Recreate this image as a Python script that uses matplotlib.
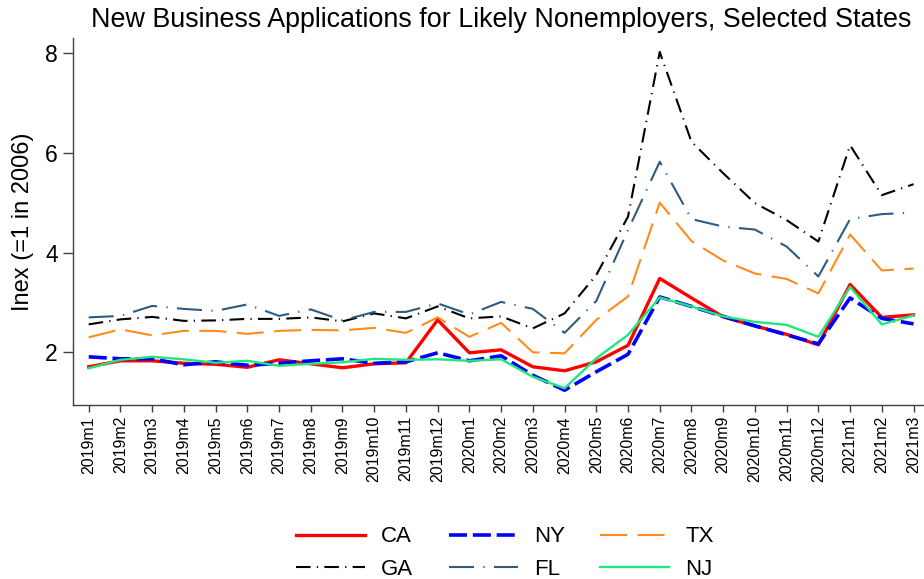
import matplotlib
matplotlib.use("Agg")
import matplotlib.pyplot as plt

plt.rcParams['font.family'] = ['Liberation Sans', 'DejaVu Sans']

months = ["2019m1", "2019m2", "2019m3", "2019m4", "2019m5", "2019m6", "2019m7", "2019m8",
          "2019m9", "2019m10", "2019m11", "2019m12", "2020m1", "2020m2", "2020m3", "2020m4",
          "2020m5", "2020m6", "2020m7", "2020m8", "2020m9", "2020m10", "2020m11", "2020m12",
          "2021m1", "2021m2", "2021m3"]

CA = [1.71, 1.83, 1.83, 1.78, 1.76, 1.70, 1.85, 1.77, 1.69, 1.77, 1.79, 2.65, 1.99, 2.05,
      1.71, 1.63, 1.81, 2.14, 3.48, 3.09, 2.71, 2.53, 2.36, 2.15, 3.36, 2.70, 2.75]
NY = [1.91, 1.87, 1.87, 1.75, 1.81, 1.74, 1.78, 1.83, 1.87, 1.78, 1.81, 1.99, 1.83, 1.93,
      1.54, 1.24, 1.61, 1.96, 3.11, 2.92, 2.72, 2.53, 2.35, 2.17, 3.09, 2.68, 2.57]
TX = [2.30, 2.46, 2.34, 2.43, 2.43, 2.37, 2.43, 2.45, 2.44, 2.49, 2.39, 2.70, 2.31, 2.59,
      2.00, 1.98, 2.65, 3.12, 5.00, 4.23, 3.84, 3.58, 3.47, 3.18, 4.36, 3.64, 3.68]
GA = [2.56, 2.66, 2.71, 2.63, 2.64, 2.67, 2.67, 2.70, 2.62, 2.78, 2.68, 2.92, 2.68, 2.72,
      2.48, 2.78, 3.55, 4.72, 8.02, 6.22, 5.59, 4.99, 4.65, 4.22, 6.15, 5.15, 5.37]
FL = [2.70, 2.73, 2.93, 2.87, 2.83, 2.96, 2.73, 2.86, 2.64, 2.81, 2.81, 2.98, 2.76, 3.01,
      2.87, 2.39, 3.03, 4.45, 5.82, 4.67, 4.52, 4.46, 4.12, 3.52, 4.67, 4.77, 4.80]
NJ = [1.68, 1.85, 1.91, 1.86, 1.79, 1.83, 1.73, 1.77, 1.80, 1.87, 1.85, 1.86, 1.83, 1.86,
      1.51, 1.28, 1.88, 2.35, 3.10, 2.92, 2.72, 2.61, 2.55, 2.31, 3.31, 2.56, 2.74]

yticks = [2, 4, 6, 8]
title = "New Business Applications for Likely Nonemployers, Selected States"
ylabel = "Inex (=1 in 2006)"

W, H = 924, 579
fig = plt.figure(figsize=(W / 100, H / 100), dpi=100)
ax = fig.add_axes([73 / W, 1 - 405 / H, (W - 73) / W, (405 - 38) / H])

x = list(range(len(months)))
h_ca, = ax.plot(x, CA, color="#ff0000", lw=2.4, label="CA")
h_ny, = ax.plot(x, NY, color="#0000ff", lw=2.6, linestyle=(0, (5.0, 1.6)), label="NY")
h_tx, = ax.plot(x, TX, color="#ff8c1a", lw=1.5, linestyle=(0, (13, 5)), label="TX")
h_ga, = ax.plot(x, GA, color="#000000", lw=1.5, linestyle=(0, (7, 3, 0.6, 3)), label="GA")
h_fl, = ax.plot(x, FL, color="#2f5b82", lw=1.5, linestyle=(0, (12, 4.5, 0.6, 4.5)), label="FL")
h_nj, = ax.plot(x, NJ, color="#1ee87a", lw=1.7, label="NJ")

ax.set_xlim(-0.495, 26.33)
ax.set_ylim(0.944, 8.30)
ax.set_yticks(yticks)
ax.set_yticklabels([str(v) for v in yticks], fontsize=16.5)
ax.set_xticks(x)
ax.set_xticklabels(months, rotation=90, fontsize=11.5)
ax.tick_params(axis="y", length=7, width=1, pad=4)
ax.tick_params(axis="x", length=5, width=1, pad=3)
for s in ["top", "right"]:
    ax.spines[s].set_visible(False)
for s in ["left", "bottom"]:
    ax.spines[s].set_color("#404040")
    ax.spines[s].set_linewidth(1.0)
ax.tick_params(color="#404040")

fig.text(501 / W, 1 - 20 / H, title, fontsize=19.4, ha="center", va="center")
fig.text(23 / W, 1 - 222 / H, ylabel, fontsize=17, rotation=90, ha="center", va="center")

handles = [h_ca, h_ga, h_ny, h_fl, h_tx, h_nj]
fig.legend(handles=handles, labels=[h.get_label() for h in handles], ncol=3,
           loc="center", bbox_to_anchor=(505 / W, 1 - 553 / H), frameon=False,
           fontsize=16, handlelength=3.1, handletextpad=0.72, columnspacing=1.6,
           labelspacing=0.5)

fig.savefig("out.png", dpi=100)
